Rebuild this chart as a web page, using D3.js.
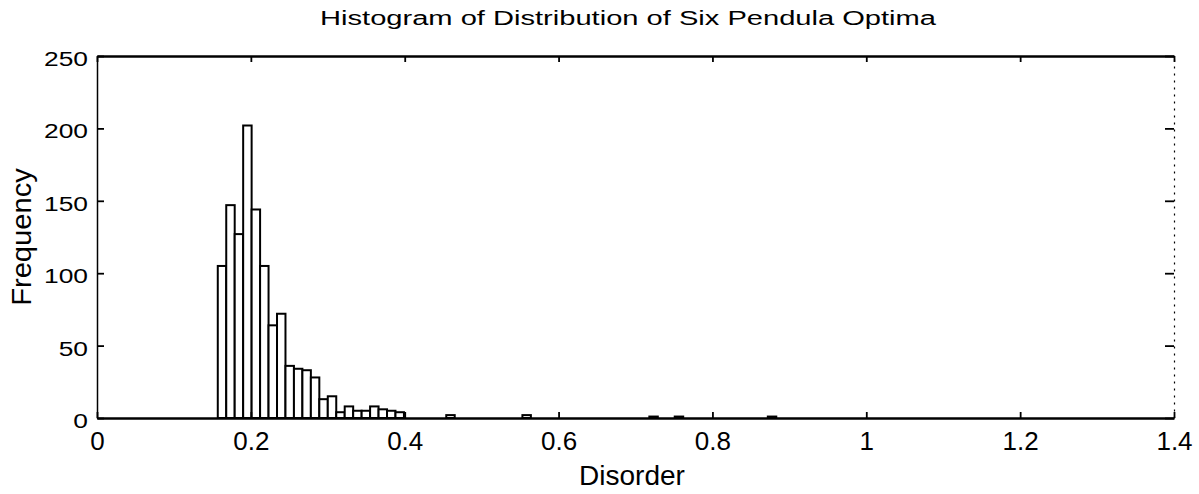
<!DOCTYPE html>
<html>
<head>
<meta charset="utf-8">
<script src="https://cdn.jsdelivr.net/npm/d3@7"></script>
<style>
  html, body { margin: 0; padding: 0; background: #fff; }
  svg { display: block; }
  text { font-family: "Liberation Sans", Arial, Helvetica, sans-serif; fill: #000; }
</style>
</head>
<body>
<svg id="chart" width="1199" height="494"></svg>
<script>
// Histogram bins: left edge of the first bin, common bin width, and counts per bin
const binStart = 0.157;
const binWidth = 0.011;
const counts = [
  105, 147, 127, 202, 144, 105, 64, 72, 36, 34,
  33, 28, 13, 15, 4, 8, 5, 5, 8, 6,
  5, 4, 0, 0, 0, 0, 0, 2, 0, 0,
  0, 0, 0, 0, 0, 0, 2, 0, 0, 0,
  0, 0, 0, 0, 0, 0, 0, 0, 0, 0,
  0, 1, 0, 0, 1, 0, 0, 0, 0, 0,
  0, 0, 0, 0, 0, 1
];

// Axis ticks
const xTicks = [0, 0.2, 0.4, 0.6, 0.8, 1, 1.2, 1.4];
const xTickLabels = ["0", "0.2", "0.4", "0.6", "0.8", "1", "1.2", "1.4"];
const yTicks = [0, 50, 100, 150, 200, 250];
const yTickLabels = ["0", "50", "100", "150", "200", "250"];

const titleText = "Histogram of Distribution of Six Pendula Optima";
const xLabelText = "Disorder";
const yLabelText = "Frequency";

const svg = d3.select("#chart");
const L = 97, R = 1174, T = 56, B = 418;

const x = d3.scaleLinear().domain([0, 1.4]).range([L, R]);
const y = d3.scaleLinear().domain([0, 250]).range([B, T]);

// Bars
const bins = counts.map((c, i) => ({ x0: binStart + i * binWidth, x1: binStart + (i + 1) * binWidth, c }));
svg.append("g")
  .selectAll("rect")
  .data(bins.filter(d => d.c > 0))
  .join("rect")
  .attr("x", d => x(d.x0))
  .attr("width", d => x(d.x1) - x(d.x0))
  .attr("y", d => y(d.c))
  .attr("height", d => y(0) - y(d.c))
  .attr("fill", "#fff")
  .attr("stroke", "#000")
  .attr("stroke-width", 2);

// Frame axes with inward ticks
const styleAxis = (g, w, dash) => {
  g.select(".domain").attr("stroke", "#000").attr("stroke-width", w);
  if (dash) g.select(".domain").attr("stroke-dasharray", dash);
  g.selectAll(".tick line").attr("stroke", "#000").attr("stroke-width", 1.8);
};

svg.append("g")
  .attr("transform", `translate(0,${T})`)
  .call(d3.axisTop(x).tickValues(xTicks).tickSize(-6).tickSizeOuter(0).tickFormat(""))
  .call(g => styleAxis(g, 2.4));

svg.append("g")
  .attr("transform", `translate(${R},0)`)
  .call(d3.axisRight(y).tickValues(yTicks).tickSize(-9).tickSizeOuter(0).tickFormat(""))
  .call(g => styleAxis(g, 1.2, "2,5"));

svg.append("g")
  .attr("transform", `translate(${L},0)`)
  .call(d3.axisLeft(y).tickValues(yTicks).tickSize(-7).tickSizeOuter(0).tickFormat(""))
  .call(g => styleAxis(g, 1.5));

const xAxis = svg.append("g")
  .attr("transform", `translate(0,${B})`)
  .call(d3.axisBottom(x).tickValues(xTicks).tickSize(-6).tickSizeOuter(0)
    .tickPadding(14).tickFormat((d, i) => xTickLabels[i]))
  .call(g => styleAxis(g, 2.6));
xAxis.selectAll(".tick text")
  .attr("font-size", 26)
  .attr("font-family", "Liberation Sans, Arial, sans-serif")
  .attr("fill", "#000");

// Y tick labels (wide face)
svg.append("g")
  .selectAll("text")
  .data(yTicks)
  .join("text")
  .attr("transform", d => `translate(88,${y(d) + 10}) scale(1.32,1)`)
  .attr("text-anchor", "end")
  .attr("font-size", 20)
  .text((d, i) => yTickLabels[i]);

// Title
svg.append("text")
  .attr("transform", "translate(628,25) scale(1.5,1)")
  .attr("text-anchor", "middle")
  .attr("font-size", 19.4)
  .text(titleText);

// Axis labels
svg.append("text")
  .attr("x", 632)
  .attr("y", 485)
  .attr("text-anchor", "middle")
  .attr("font-size", 28)
  .text(xLabelText);

svg.append("text")
  .attr("transform", "translate(31,237) rotate(-90) scale(1.08,1)")
  .attr("text-anchor", "middle")
  .attr("font-size", 27)
  .text(yLabelText);
</script>
</body>
</html>
